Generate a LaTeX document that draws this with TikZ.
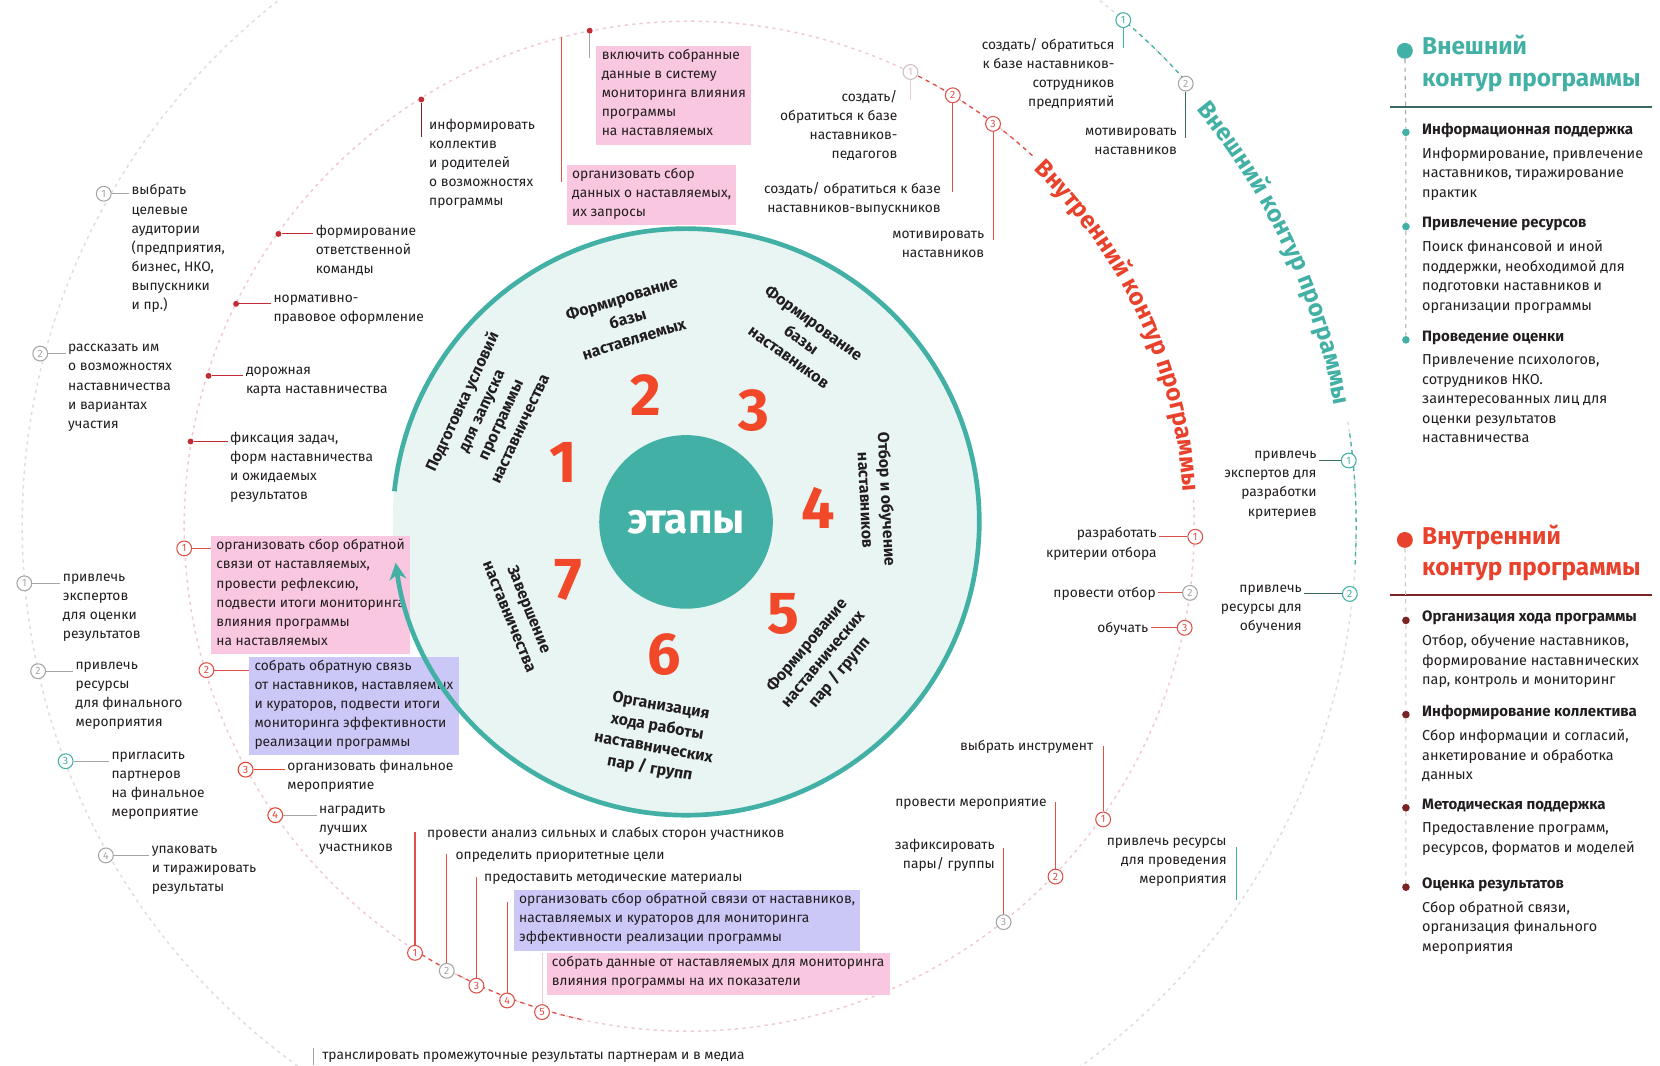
\documentclass[tikz,border=0pt]{standalone}
\usepackage{fontspec}
\setmainfont{Fira Sans}
\usepackage{tikz}
\usepackage{xcolor}
\usetikzlibrary{arrows.meta,calc,decorations.text}

\definecolor{tealc}{RGB}{66,176,165}
\definecolor{tealfill}{RGB}{232,245,243}
\definecolor{tealdark}{RGB}{58,104,100}
\definecolor{numred}{RGB}{242,72,42}
\definecolor{inred}{RGB}{233,66,44}
\definecolor{linered}{RGB}{222,80,72}
\definecolor{darkred}{RGB}{122,34,36}
\definecolor{dotred}{RGB}{196,44,52}
\definecolor{pinkhl}{RGB}{249,199,223}
\definecolor{lavhl}{RGB}{203,199,246}
\definecolor{txt}{RGB}{34,30,32}
\definecolor{faint}{RGB}{222,222,222}
\definecolor{faintpink}{RGB}{238,204,210}
\definecolor{mkgray}{RGB}{165,165,165}

\newcommand{\lblfont}{\fontsize{6.5}{9}\selectfont}
\newcommand{\legfont}{\fontsize{6.8}{9.2}\selectfont}
\newcommand{\leghead}{\fontsize{7.1}{9.2}\selectfont\bfseries}

\begin{document}
\begin{tikzpicture}[x=0.5pt,y=-0.5pt,>={Stealth[length=8pt,width=8pt]},
  lbl/.style={font=\lblfont,text=txt,align=left,inner sep=1pt,anchor=north west,execute at begin node=\strut},
  rlbl/.style={lbl,align=right,anchor=north east},
  hl/.style={lbl,fill=#1,inner xsep=2.5pt,inner ysep=1.5pt},
  mk/.style={circle,draw=#1,text=#1,fill=white,line width=0.5pt,inner sep=0pt,minimum size=7pt,font=\fontsize{5}{5}\selectfont},
  dotr/.style={circle,fill=dotred,inner sep=0pt,minimum size=2.8pt},
  cl/.style={draw=#1,line width=0.5pt},
  stg/.style={font=\fontsize{7.5}{10}\selectfont\bfseries,text=txt,align=center},
  num/.style={font=\fontsize{28}{28}\selectfont\bfseries,text=numred},
  legdot/.style={circle,fill=#1,inner sep=0pt,minimum size=3.6pt},
  leg/.style={font=\legfont,text=txt,align=left,inner sep=1pt,anchor=north west,execute at begin node=\strut}]

\fill[white] (0,0) rectangle (1568,1006);
\useasboundingbox (0,0) rectangle (1568,1006);
\coordinate (ctr) at (651,497);
\coordinate (hub) at (648,493);

\draw[faint,line width=0.7pt,dash pattern=on 1.5pt off 2pt] (ctr) ++(-9:630) arc[start angle=-9,end angle=319,radius=630];
\draw[faintpink,line width=0.7pt,dash pattern=on 1.5pt off 2pt] (ctr) ++(-3:477) arc[start angle=-3,end angle=313,radius=477];
\draw[tealc,line width=0.6pt,dash pattern=on 2pt off 2pt] (ctr) ++(-49:630) arc[start angle=-49,end angle=-41,radius=630];
\draw[tealc,line width=0.6pt,dash pattern=on 2pt off 2pt] (ctr) ++(-8:630) arc[start angle=-8,end angle=3.5,radius=630];
\draw[linered,line width=0.6pt,dash pattern=on 2pt off 2pt] (ctr) ++(-64:477) arc[start angle=-64,end angle=-47,radius=477];
\draw[linered,line width=0.6pt,dash pattern=on 2pt off 2pt] (ctr) ++(123:477) arc[start angle=123,end angle=102,radius=477];

\path[decorate,decoration={text along path,text align=center,text={|\fontsize{11.5}{13}\selectfont\bfseries\color{inred}|Внутренний контур программы}}] (ctr) ++(-49:468) arc[start angle=-49,end angle=-1,radius=468];
\path[decorate,decoration={text along path,text align=center,text={|\fontsize{11.5}{13}\selectfont\bfseries\color{tealc}|Внешний контур программы}}] (ctr) ++(-43:620) arc[start angle=-43,end angle=-7,radius=620];

\fill[tealfill] (hub) circle[radius=277];
\node[circle,fill=tealc,minimum size=82pt,inner sep=0pt,text=white,font=\fontsize{20}{20}\selectfont\bfseries] (core) at (hub) {этапы};

\node[num] (n1) at (532,437) {1};
\node[num] (n2) at (610,373) {2};
\node[num] (n3) at (712,388) {3};
\node[num] (n4) at (773,480) {4};
\node[num] (n5) at (740,580) {5};
\node[num] (n6) at (627,618) {6};
\node[num] (n7) at (537,548) {7};

\node[stg,rotate=65] (s1) at (463,392) {Подготовка условий\\для запуска\\программы\\наставничества};
\node[stg,rotate=17] (s2) at (593,301) {Формирование\\базы\\наставляемых};
\node[stg,rotate=-36] (s3) at (757,321) {Формирование\\базы\\наставников};
\node[stg,rotate=-87] (s4) at (828,472) {Отбор и обучение\\наставников};
\node[stg,rotate=50] (s5) at (778,623) {Формирование\\наставнических\\пар / групп};
\node[stg,rotate=-10] (s6) at (619,697) {Организация\\хода работы\\наставнических\\пар / групп};
\node[stg,rotate=-68] (s7) at (491,579) {Завершение\\наставничества};

\node[mk=mkgray] (L1) at (98,183) {1};
\node[lbl] (L1t) at (122,172) {выбрать\\целевые\\аудитории\\(предприятия,\\бизнес, НКО,\\выпускники\\и пр.)};
\draw[cl=mkgray] (L1) -- (L1 -| L1t.west);
\node[mk=mkgray] (L2) at (38,334) {2};
\node[lbl] (L2t) at (62,323) {рассказать им\\о возможностях\\наставничества\\и вариантах\\участия};
\draw[cl=mkgray] (L2) -- (L2 -| L2t.west);

\node[dotr] (d1) at (263,221) {};
\node[lbl] (d1t) at (296,210) {формирование\\ответственной\\команды};
\draw[cl=dotred] (d1) -- (d1 -| d1t.west);
\node[dotr] (d2) at (223,287) {};
\node[lbl] (d2t) at (256,276) {нормативно-\\правовое оформление};
\draw[cl=dotred] (d2) -- (d2 -| d2t.west);
\node[dotr] (d3) at (197,355) {};
\node[lbl] (d3t) at (230,344) {дорожная\\карта наставничества};
\draw[cl=dotred] (d3) -- (d3 -| d3t.west);
\node[dotr] (d4) at (180,417) {};
\node[lbl] (d4t) at (215,406) {фиксация задач,\\форм наставничества\\и ожидаемых\\результатов};
\draw[cl=dotred] (d4) -- (d4 -| d4t.west);

\node[mk=linered] (m1) at (174,518) {1};
\node[hl=pinkhl] (m1t) at (199,506) {организовать сбор обратной\\связи от наставляемых,\\провести рефлексию,\\подвести итоги мониторинга\\влияния программы\\на наставляемых};
\draw[cl=linered] (m1) -- (m1 -| m1t.west);
\node[mk=linered] (m2) at (195,633) {2};
\node[hl=lavhl] (m2t) at (235,620) {собрать обратную связь\\от наставников, наставляемых\\и кураторов, подвести итоги\\мониторинга эффективности\\реализации программы};
\draw[cl=linered] (m2) -- (m2 -| m2t.west);
\node[mk=inred] (m3) at (232,727) {3};
\node[lbl] (m3t) at (269,716) {организовать финальное\\мероприятие};
\draw[cl=inred] (m3) -- (m3 -| m3t.west);
\node[mk=inred] (m4) at (260,770) {4};
\node[lbl] (m4t) at (299,759) {наградить\\лучших\\участников};
\draw[cl=mkgray] (m4) -- (m4 -| m4t.west);

\node[mk=mkgray] (Lb1) at (23,551) {1};
\node[lbl] (Lb1t) at (57,540) {привлечь\\экспертов\\для оценки\\результатов};
\draw[cl=mkgray] (Lb1) -- (Lb1 -| Lb1t.west);
\node[mk=mkgray] (Lb2) at (36,634) {2};
\node[lbl] (Lb2t) at (69,623) {привлечь\\ресурсы\\для финального\\мероприятия};
\draw[cl=mkgray] (Lb2) -- (Lb2 -| Lb2t.west);
\node[mk=tealc] (Lb3) at (62,719) {3};
\node[lbl] (Lb3t) at (103,708) {пригласить\\партнеров\\на финальное\\мероприятие};
\draw[cl=mkgray] (Lb3) -- (Lb3 -| Lb3t.west);
\node[mk=mkgray] (Lb4) at (100,808) {4};
\node[lbl] (Lb4t) at (141,797) {упаковать\\и тиражировать\\результаты};
\draw[cl=mkgray] (Lb4) -- (Lb4 -| Lb4t.west);

\coordinate (tr0) at (296,1006);
\node[lbl] (trt) at (302,986) {транслировать промежуточные результаты партнерам и в медиа};
\draw[cl=mkgray] (tr0) -- ($(tr0 |- trt.north)+(0,4)$);

\node[dotr] (td1) at (398,94) {};
\node[lbl] (td1t) at (403,110) {информировать\\коллектив\\и родителей\\о возможностях\\программы};
\draw[cl=darkred] (td1) -- ($(td1 |- td1t.north)+(0,19)$);
\coordinate (tc1) at (530,35);
\node[hl=pinkhl] (tc1t) at (535,155) {организовать сбор\\данных о наставляемых,\\их запросы};
\draw[cl=linered] (tc1) -- ($(tc1 |- tc1t.north)+(0,17)$);
\node[dotr] (td2) at (557,29) {};
\node[hl=pinkhl] (td2t) at (563,43) {включить собранные\\данные в систему\\мониторинга влияния\\программы\\на наставляемых};
\draw[cl=mkgray] (td2) -- ($(td2 |- td2t.north)+(0,12)$);

\node[mk=faintpink!60!mkgray] (ti1) at (860,68) {1};
\node[rlbl] (ti1t) at (850,83) {создать/\\обратиться к базе\\наставников-\\педагогов};
\draw[cl=faintpink] (ti1) -- ($(ti1 |- ti1t.north)+(0,11)$);
\node[mk=linered] (ti2) at (900,90) {2};
\node[rlbl] (ti2t) at (891,170) {создать/ обратиться к базе\\наставников-выпускников};
\draw[cl=linered] (ti2) -- ($(ti2 |- ti2t.north)+(0,11)$);
\node[mk=linered] (ti3) at (938,117) {3};
\node[rlbl] (ti3t) at (932,216) {мотивировать\\наставников};
\draw[cl=linered] (ti3) -- ($(ti3 |- ti3t.north)+(0,11)$);

\node[mk=tealc] (to1) at (1061,19) {1};
\node[rlbl] (to1t) at (1055,34) {создать/ обратиться\\к базе наставников-\\сотрудников\\предприятий};
\draw[cl=tealc] (to1) -- ($(to1 |- to1t.north)+(0,11)$);
\node[mk=mkgray] (to2) at (1120,79) {2};
\node[rlbl] (to2t) at (1114,119) {мотивировать\\наставников};
\draw[cl=tealdark] (to2) -- ($(to2 |- to2t.north)+(0,11)$);

\node[mk=tealc] (R1) at (1274,435) {1};
\node[rlbl] (R1t) at (1246,424) {привлечь\\экспертов для\\разработки\\критериев};
\draw[cl=tealdark] (R1) -- (R1 -| R1t.east);
\node[mk=tealc] (R2) at (1275,561) {2};
\node[rlbl] (R2t) at (1232,550) {привлечь\\ресурсы для\\обучения};
\draw[cl=tealdark] (R2) -- (R2 -| R2t.east);

\node[mk=linered] (ir1) at (1129,507) {1};
\node[rlbl] (ir1t) at (1095,496) {разработать\\критерии отбора};
\draw[cl=linered] (ir1) -- (ir1 -| ir1t.east);
\node[mk=mkgray] (ir2) at (1124,560) {2};
\node[rlbl] (ir2t) at (1094,549) {провести отбор};
\draw[cl=linered] (ir2) -- (ir2 -| ir2t.east);
\node[mk=linered] (ir3) at (1119,593) {3};
\node[rlbl] (ir3t) at (1087,582) {обучать};
\draw[cl=linered] (ir3) -- (ir3 -| ir3t.east);

\node[mk=linered] (ib1) at (1042,774) {1};
\node[rlbl] (ib1t) at (1035,694) {выбрать инструмент};
\draw[cl=linered] (ib1) -- ($(ib1 |- ib1t.north)+(0,11)$);
\node[mk=linered] (ib2) at (997,828) {2};
\node[rlbl] (ib2t) at (991,747) {провести мероприятие};
\draw[cl=linered] (ib2) -- ($(ib2 |- ib2t.north)+(0,11)$);
\node[mk=mkgray] (ib3) at (948,871) {3};
\node[rlbl] (ib3t) at (942,790) {зафиксировать\\пары/ группы};
\draw[cl=linered] (ib3) -- ($(ib3 |- ib3t.north)+(0,11)$);
\coordinate (tb1) at (1168,850);
\node[rlbl] (tb1t) at (1161,789) {привлечь ресурсы\\для проведения\\мероприятия};
\draw[cl=tealc] (tb1) -- ($(tb1 |- tb1t.north)+(0,11)$);

\node[mk=linered] (b1) at (392,900) {1};
\node[lbl] (b1t) at (401,776) {провести анализ сильных и слабых сторон участников};
\draw[cl=linered] (b1) -- ($(b1 |- b1t.north)+(0,10)$);
\node[mk=mkgray] (b2) at (422,917) {2};
\node[lbl] (b2t) at (428,797) {определить приоритетные цели};
\draw[cl=linered] (b2) -- ($(b2 |- b2t.north)+(0,10)$);
\node[mk=linered] (b3) at (450,931) {3};
\node[lbl] (b3t) at (455,818) {предоставить методические материалы};
\draw[cl=linered] (b3) -- ($(b3 |- b3t.north)+(0,10)$);
\node[mk=linered] (b4) at (479,945) {4};
\node[hl=lavhl] (b4t) at (485,840) {организовать сбор обратной связи от наставников,\\наставляемых и кураторов для мониторинга\\эффективности реализации программы};
\draw[cl=linered] (b4) -- ($(b4 |- b4t.north)+(0,12)$);
\node[mk=linered] (b5) at (512,956) {5};
\node[hl=pinkhl] (b5t) at (516,900) {собрать данные от наставляемых для мониторинга\\влияния программы на их показатели};
\draw[cl=faintpink] (b5) -- (b5 |- b5t.north);

\draw[tealc,line width=2.2pt,->] (hub) ++(-174:277) arc[start angle=-174,end angle=172,radius=277];

\node[circle,fill=tealc,inner sep=0pt,minimum size=7.5pt] (eDot) at (1327,48) {};
\node[anchor=north west,inner sep=1pt,align=left,text=tealc,font=\fontsize{11.5}{15}\selectfont\bfseries,execute at begin node=\strut] (eHead) at (1341,31) {Внешний\\контур программы};
\draw[tealdark,line width=1.3pt] (1313,101) -- (1560,101);
\node[legdot=tealc] (e1) at (1328,125) {};
\node[leg] (e1t) at (1341,114) {{\leghead Информационная поддержка}\\[2pt]Информирование, привлечение\\наставников, тиражирование\\практик};
\node[legdot=tealc] (e2) at (1328,214) {};
\node[leg] (e2t) at (1341,203) {{\leghead Привлечение ресурсов}\\[2pt]Поиск финансовой и иной\\поддержки, необходимой для\\подготовки наставников и\\организации программы};
\node[legdot=tealc] (e3) at (1328,321) {};
\node[leg] (e3t) at (1341,310) {{\leghead Проведение оценки}\\[2pt]Привлечение психологов,\\сотрудников НКО.\\заинтересованных лиц для\\оценки результатов\\наставничества};
\draw[mkgray,line width=0.5pt,dash pattern=on 2pt off 2pt] (eDot) -- (e1) -- (e2) -- (e3);

\node[circle,fill=inred,inner sep=0pt,minimum size=7.5pt] (iDot) at (1327,510) {};
\node[anchor=north west,inner sep=1pt,align=left,text=inred,font=\fontsize{11.5}{15}\selectfont\bfseries,execute at begin node=\strut] (iHead) at (1341,493) {Внутренний\\контур программы};
\draw[darkred,line width=1.3pt] (1313,562) -- (1560,562);
\node[legdot=darkred] (i1) at (1328,586) {};
\node[leg] (i1t) at (1341,575) {{\leghead Организация хода программы}\\[2pt]Отбор, обучение наставников,\\формирование наставнических\\пар, контроль и мониторинг};
\node[legdot=darkred] (i2) at (1328,675) {};
\node[leg] (i2t) at (1341,664) {{\leghead Информирование коллектива}\\[2pt]Сбор информации и согласий,\\анкетирование и обработка\\данных};
\node[legdot=darkred] (i3) at (1328,763) {};
\node[leg] (i3t) at (1341,752) {{\leghead Методическая поддержка}\\[2pt]Предоставление программ,\\ресурсов, форматов и моделей};
\node[legdot=darkred] (i4) at (1328,838) {};
\node[leg] (i4t) at (1341,827) {{\leghead Оценка результатов}\\[2pt]Сбор обратной связи,\\организация финального\\мероприятия};
\draw[faintpink!70!mkgray,line width=0.5pt,dash pattern=on 2pt off 2pt] (iDot) -- (i1) -- (i2) -- (i3) -- (i4);
\end{tikzpicture}
\end{document}
